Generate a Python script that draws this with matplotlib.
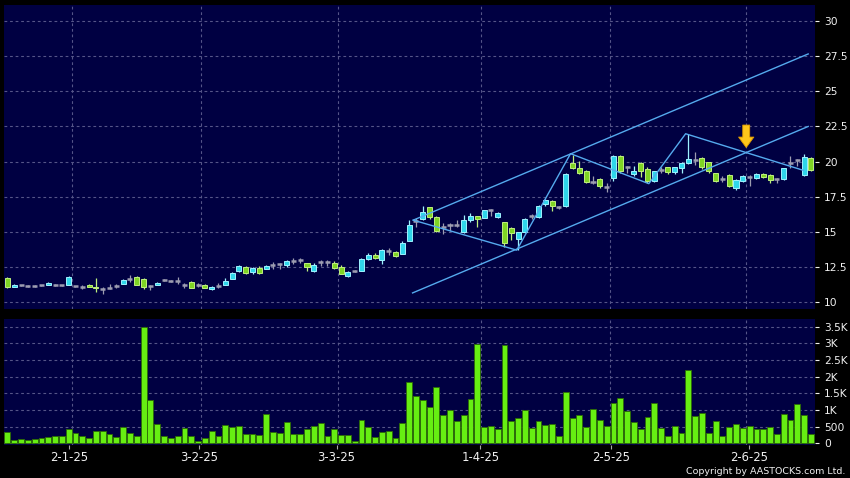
import matplotlib
matplotlib.use("Agg")
import matplotlib.pyplot as plt
import numpy as np

# ---------------- data ----------------
opens = [11.71,11.07,11.18,11.14,11.12,11.18,11.21,11.21,11.18,11.21,
         11.10,11.05,11.21,11.07,10.93,11.00,11.14,11.29,11.64,11.79,
         11.64,11.14,11.21,11.57,11.50,11.50,11.21,11.43,11.21,11.21,
         10.93,11.14,11.21,11.64,12.17,12.50,12.14,12.43,12.36,12.64,
         12.71,12.64,12.93,13.00,12.79,12.21,12.86,12.82,12.79,12.50,
         11.86,12.21,12.21,13.07,13.36,13.00,13.64,13.57,13.43,14.34,
         15.73,15.89,16.79,16.07,15.31,15.47,15.50,14.97,15.82,16.10,
         16.00,16.56,16.05,15.66,15.24,14.50,14.97,16.12,16.05,16.95,
         17.20,16.77,16.83,19.88,19.52,19.33,18.55,18.76,18.21,18.81,
         20.40,19.60,19.10,19.93,19.50,18.64,19.40,19.58,19.24,19.54,
         19.86,20.12,20.23,19.95,19.19,18.73,19.03,18.10,18.59,18.91,
         18.82,19.12,19.03,18.73,18.73,19.88,20.12,19.07,20.23]
highs = [11.75,11.24,11.22,11.20,11.16,11.22,11.38,11.24,11.21,11.81,
         11.14,11.21,11.24,11.71,11.07,11.29,11.29,11.60,11.93,11.83,
         11.67,11.20,11.40,11.64,11.57,11.79,11.36,11.45,11.36,11.29,
         11.10,11.36,11.71,12.10,12.64,12.57,12.50,12.55,12.62,12.86,
         12.79,13.00,13.14,13.14,12.79,12.79,13.00,13.00,12.90,12.60,
         12.17,12.28,13.10,13.50,13.50,13.78,13.86,13.64,14.30,15.84,
         15.96,16.80,16.79,16.10,15.59,15.63,15.82,16.19,16.33,16.12,
         16.55,16.60,16.40,15.70,15.30,15.00,16.00,16.23,16.90,17.30,
         17.26,16.85,19.15,20.50,20.07,19.40,19.00,18.80,18.45,20.45,
         20.45,19.70,19.70,20.00,19.60,19.33,19.64,19.62,19.64,19.95,
         21.97,20.70,20.35,20.00,19.20,18.96,19.10,18.75,19.05,19.07,
         19.20,19.20,19.10,18.82,19.55,20.39,20.16,20.55,20.30]
lows = [10.95,11.02,11.10,11.07,11.05,11.10,11.18,11.14,11.10,11.17,
        11.05,10.93,11.02,10.69,10.57,10.93,11.00,11.26,11.43,11.17,
        10.90,10.86,11.17,11.45,11.43,11.29,11.00,10.97,11.07,10.95,
        10.86,11.00,11.17,11.60,12.14,12.00,12.00,12.00,12.33,12.36,
        12.36,12.50,12.71,12.79,12.21,12.14,12.57,12.57,12.36,11.95,
        11.79,12.14,12.17,13.00,13.05,12.70,13.36,13.20,13.40,14.30,
        15.36,15.80,15.90,15.00,14.85,15.08,15.36,14.90,15.70,15.31,
        15.95,16.12,16.00,13.93,14.39,13.70,14.90,15.89,16.00,16.80,
        16.50,16.60,16.79,19.45,19.10,18.50,18.40,18.10,17.86,18.64,
        19.20,19.20,19.00,18.90,18.50,18.55,19.17,19.10,19.10,19.20,
        19.80,19.77,19.50,19.20,18.55,18.54,18.20,18.00,18.55,18.26,
        18.75,18.85,18.45,18.50,18.70,19.54,19.65,19.00,19.30]
closes = [11.07,11.21,11.18,11.14,11.12,11.18,11.36,11.21,11.18,11.79,
          11.10,11.05,11.07,10.95,10.93,11.00,11.14,11.57,11.64,11.21,
          11.07,11.14,11.36,11.57,11.50,11.50,11.21,11.00,11.21,11.00,
          11.07,11.14,11.50,12.07,12.57,12.07,12.43,12.07,12.57,12.64,
          12.71,12.93,12.93,13.00,12.50,12.64,12.86,12.82,12.43,12.00,
          12.14,12.21,13.07,13.36,13.14,13.71,13.64,13.29,14.21,15.47,
          15.73,16.42,16.07,15.08,15.31,15.47,15.50,15.82,16.10,15.93,
          16.51,16.56,16.35,14.16,14.92,14.94,15.89,16.12,16.85,17.25,
          16.80,16.77,19.12,19.52,19.17,18.57,18.55,18.26,18.21,20.40,
          19.29,19.60,19.33,19.29,18.62,19.29,19.40,19.24,19.58,19.88,
          20.16,20.12,19.58,19.30,18.61,18.73,18.22,18.68,19.00,18.91,
          19.12,18.91,18.68,18.73,19.51,19.88,20.12,20.35,19.42]
volumes = [343,98,127,98,137,157,176,225,225,441,
           304,216,167,373,363,294,176,490,314,206,
           3480,1314,588,235,147,235,451,235,59,157,
           373,225,549,490,529,275,275,255,873,353,
           324,627,294,294,431,510,618,235,422,265,
           245,78,686,500,186,333,382,147,618,1853,
           1422,1304,1088,1696,853,990,657,863,1324,2971,
           490,510,422,2951,657,765,1010,461,657,539,
           588,206,1529,755,853,480,1039,706,520,1206,
           1363,980,637,431,794,1216,471,235,510,304,
           2186,833,922,324,667,206,490,569,471,510,
           422,431,480,275,882,686,1186,853,275]

date_labels = ["2-1-25", "3-2-25", "3-3-25", "1-4-25", "2-5-25", "2-6-25"]
date_pos = [9.03, 28.13, 48.33, 69.47, 88.62, 108.94]
month_grid = [9.5, 28.5, 48.5, 69.5, 88.5, 108.5]

price_ticks = [10, 12.5, 15, 17.5, 20, 22.5, 25, 27.5, 30]
price_labels = ["10", "12.5", "15", "17.5", "20", "22.5", "25", "27.5", "30"]
vol_ticks = [0, 500, 1000, 1500, 2000, 2500, 3000, 3500]
vol_labels = ["0", "500", "1K", "1.5K", "2K", "2.5K", "3K", "3.5K"]

# trend lines (index, price)
upper_x, upper_y = [59.6, 117.6], [15.82, 27.67]
lower_x, lower_y = [59.5, 117.6], [10.63, 22.50]
zig_x = [59.6, 74.8, 82.7, 94.2, 99.6, 116.9]
zig_y = [15.82, 13.68, 20.56, 18.42, 21.98, 19.37]
arrow_x, arrow_tip, arrow_tail = 108.5, 21.0, 22.6

# ---------------- style ----------------
BG = "#000000"
PANEL = "#000042"
GRID = "#555588"
TXT = "#f0f0f0"
UP_FACE, UP_EDGE = "#2fd6ea", "#9ff2ff"
DN_FACE, DN_EDGE = "#7fd424", "#bff07e"
FLAT = "#9c9cb0"
VOL_FACE, VOL_EDGE = "#66ee12", "#2c6a06"
LINE = "#55aaee"
DASH = (0, (2.5, 2.5))

W, H = 850, 478
fig = plt.figure(figsize=(W / 100, H / 100), dpi=100, facecolor=BG)
ax = fig.add_axes([4 / W, 1 - 308.5 / H, 811 / W, 303.5 / H], facecolor=PANEL)
axv = fig.add_axes([4 / W, 1 - 445 / H, 811 / W, 126 / H], facecolor=PANEL)

n = len(opens)
x = np.arange(n)
o = np.array(opens); c = np.array(closes); h = np.array(highs); l = np.array(lows)

for a in (ax, axv):
    a.set_xlim(-0.5, 118.6)
    for s in a.spines.values():
        s.set_visible(False)
    for p in month_grid:
        a.axvline(p, color=GRID, lw=0.8, ls=DASH, zorder=0.5)

ax.set_ylim(9.52, 31.16)
axv.set_ylim(-50, 3730)

for t in price_ticks:
    ax.axhline(t, color=GRID, lw=0.8, ls=DASH, zorder=0.5)
for t in vol_ticks:
    axv.axhline(t, color=GRID, lw=0.8, ls=DASH, zorder=0.5)

# candles
up = c > o
dn = c < o
fl = c == o
wick_cols = np.where(up, UP_EDGE, np.where(dn, DN_EDGE, FLAT))
ax.vlines(x, l, h, colors=list(wick_cols), lw=0.9, zorder=2)
bw = 0.74
ax.bar(x[up], (c - o)[up], bottom=o[up], width=bw, color=UP_FACE,
       edgecolor=UP_EDGE, lw=0.7, zorder=3)
ax.bar(x[dn], (o - c)[dn], bottom=c[dn], width=bw, color=DN_FACE,
       edgecolor=DN_EDGE, lw=0.7, zorder=3)
ax.hlines(o[fl], x[fl] - bw / 2, x[fl] + bw / 2, colors=FLAT, lw=1.8, zorder=3)

# trend lines
ax.plot(upper_x, upper_y, color=LINE, lw=1.0, zorder=4)
ax.plot(lower_x, lower_y, color=LINE, lw=1.0, zorder=4)
ax.plot(zig_x, zig_y, color=LINE, lw=1.0, zorder=4)

ax.annotate("", xy=(arrow_x, arrow_tip), xytext=(arrow_x, arrow_tail),
            arrowprops=dict(arrowstyle="simple,head_length=0.75,head_width=1.1,tail_width=0.5",
                            fc="#ffc61a", ec="#e09a00", lw=0.6, shrinkA=0, shrinkB=0,
                            mutation_scale=10), zorder=6)

# volume
axv.bar(x, volumes, width=0.86, color=VOL_FACE, edgecolor=VOL_EDGE, lw=0.6, zorder=3)

# ticks
FONT = "DejaVu Sans"
ax.yaxis.tick_right()
ax.set_yticks(price_ticks)
ax.set_yticklabels(price_labels, color=TXT, family=FONT, size=7.7)
ax.tick_params(axis="y", length=3, width=0.8, color=TXT, pad=3.5)
ax.set_xticks([])

axv.yaxis.tick_right()
axv.set_yticks(vol_ticks)
axv.set_yticklabels(vol_labels, color=TXT, family=FONT, size=7.7)
axv.tick_params(axis="y", length=3, width=0.8, color=TXT, pad=3.5)
axv.set_xticks(date_pos)
axv.set_xticklabels(date_labels, color=TXT, family=FONT, size=8.4)
axv.tick_params(axis="x", length=3, width=0.8, color="#aaaaaa", pad=1.5)

fig.text(845.7 / W, 1 - 471 / H, "Copyright by AASTOCKS.com Ltd.", color=TXT,
         ha="right", va="center", family=FONT, size=6.8)

fig.savefig("out.png", dpi=100, facecolor=BG)
